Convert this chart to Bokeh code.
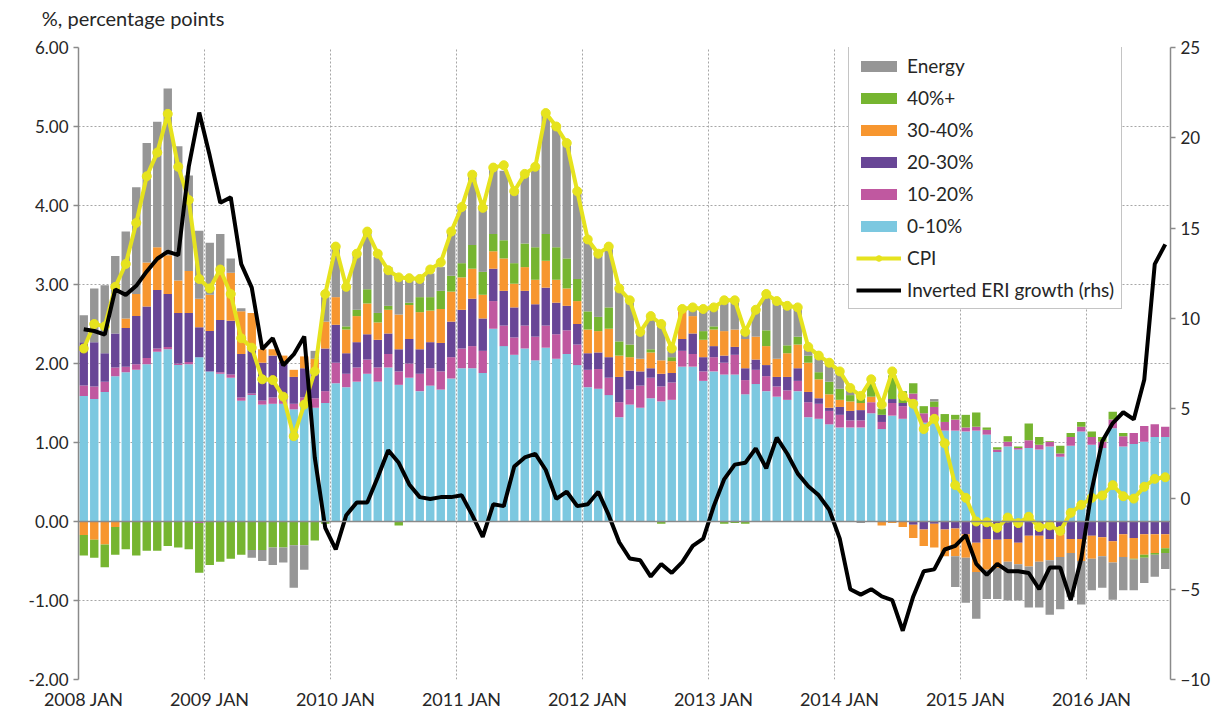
import numpy as np
from bokeh.plotting import figure
from bokeh.models import (Range1d, LinearAxis, FixedTicker, NumeralTickFormatter, Span,
                          Legend, LegendItem, ColumnDataSource)
from bokeh.embed import file_html
from bokeh.resources import INLINE

# ---------------- data (monthly, 2008 JAN .. 2016 AUG) ----------------
year_labels = ["2008 JAN", "2009 JAN", "2010 JAN", "2011 JAN", "2012 JAN",
               "2013 JAN", "2014 JAN", "2015 JAN", "2016 JAN"]
unit_text = "%, percentage points"

blue = [1.59,1.55,1.64,1.84,1.89,1.92,1.99,2.15,2.18,1.98,
        1.99,2.08,1.90,1.87,1.82,1.53,1.60,1.48,1.49,1.49,
        1.42,1.49,1.44,1.50,1.75,1.70,1.77,1.87,1.77,1.95,
        1.73,1.82,1.65,1.72,1.67,1.81,1.94,1.94,1.88,2.44,
        2.22,2.11,2.19,2.04,2.20,2.06,2.12,1.98,1.70,1.68,
        1.60,1.32,1.48,1.44,1.56,1.52,1.54,1.96,1.96,1.78,
        1.90,1.86,1.86,1.61,1.74,1.65,1.58,1.54,1.65,1.32,
        1.30,1.23,1.19,1.19,1.19,1.37,1.17,1.34,1.30,1.54,
        1.25,1.33,1.15,1.15,1.14,1.15,1.10,0.88,0.95,0.91,
        0.93,0.91,0.95,0.82,0.96,1.14,0.97,0.93,1.18,0.95,
        0.98,1.01,1.07,1.07]

pink = [0.13,0.16,0.13,0.11,0.07,0.07,0.08,0.04,0.03,0.02,
        0.03,-0.02,0.00,0.02,0.04,0.04,0.02,0.05,0.08,0.04,
        0.07,0.08,0.12,0.15,0.26,0.17,0.18,0.18,0.18,0.17,
        0.17,0.18,0.22,0.22,0.23,0.27,0.25,0.28,0.28,0.35,
        0.26,0.22,0.29,0.30,0.28,0.31,0.30,0.26,0.22,0.25,
        0.22,0.19,0.19,0.28,0.26,0.19,0.22,0.20,0.16,0.12,
        0.18,0.15,0.25,0.18,0.18,0.19,0.13,0.12,0.13,0.19,
        0.19,0.17,0.16,0.09,0.09,0.14,0.09,0.16,0.16,0.08,
        0.12,0.12,0.11,0.14,0.05,0.05,0.06,0.03,0.06,0.02,
        0.10,0.06,0.06,0.04,0.11,0.06,0.10,0.08,0.11,0.13,
        0.14,0.20,0.16,0.13]

purple = [0.55,0.56,0.36,0.43,0.49,0.61,0.65,0.74,0.67,0.64,
          0.62,0.38,0.51,0.66,0.68,0.55,0.57,0.48,0.53,0.49,
          0.34,0.37,0.34,0.54,0.48,0.26,0.32,0.32,0.35,0.26,
          0.28,0.31,0.31,0.33,0.36,0.45,0.49,0.60,0.41,0.41,
          0.44,0.38,0.44,0.41,0.48,0.40,0.31,0.26,0.21,0.21,
          0.26,0.32,0.24,0.18,0.12,0.16,0.12,0.15,0.26,0.18,
          0.14,0.09,0.10,0.15,0.13,0.14,0.12,0.17,0.16,0.13,
          0.07,0.04,0.10,0.12,0.13,0.00,0.09,0.05,0.04,-0.04,
          -0.10,-0.03,-0.10,-0.09,-0.16,-0.27,-0.22,-0.23,-0.22,-0.27,
          -0.18,-0.18,-0.22,-0.16,-0.22,-0.22,-0.18,-0.20,-0.25,-0.16,
          -0.21,-0.16,-0.16,-0.16]

orange = [-0.17,-0.23,-0.29,-0.07,0.12,0.28,0.56,0.54,0.49,0.41,
          0.53,0.36,0.46,0.67,0.61,0.54,0.45,0.17,0.08,0.08,
          0.09,0.15,0.16,0.34,0.35,0.30,0.33,0.39,0.22,0.30,
          0.44,0.43,0.47,0.40,0.43,0.38,0.41,0.38,0.30,0.22,
          0.41,0.30,0.30,0.31,0.34,0.29,0.22,0.29,0.30,0.27,
          0.36,0.27,0.17,0.16,0.20,0.17,0.15,0.35,0.22,0.22,
          0.21,0.31,0.22,0.37,0.29,0.24,0.23,0.30,0.30,0.37,
          0.24,0.17,0.09,0.12,0.09,0.07,-0.05,-0.02,-0.07,-0.17,
          -0.21,-0.30,-0.34,-0.35,-0.30,-0.37,-0.39,-0.36,-0.29,-0.27,
          -0.39,-0.33,-0.27,-0.29,-0.18,-0.28,-0.29,-0.24,-0.27,-0.29,
          -0.26,-0.26,-0.24,-0.18]

green = [-0.26,-0.23,-0.29,-0.35,-0.35,-0.43,-0.37,-0.37,-0.31,-0.33,
         -0.35,-0.63,-0.55,-0.51,-0.47,-0.42,-0.36,-0.36,-0.33,-0.33,
         -0.30,-0.30,-0.24,-0.03,0.00,0.04,0.08,0.18,0.12,0.05,
         -0.05,0.03,0.19,0.17,0.23,0.20,0.18,0.30,0.29,0.22,
         0.23,0.26,0.30,0.41,0.34,0.41,0.38,0.28,0.23,0.18,
         0.27,0.18,0.16,0.00,0.04,-0.03,0.05,0.00,0.00,0.11,
         0.04,-0.03,-0.02,-0.03,0.00,0.20,0.00,0.10,0.10,0.09,
         0.09,0.16,0.14,0.08,0.10,0.17,0.08,0.30,0.15,0.13,
         0.09,0.07,0.10,0.06,0.16,0.18,0.03,0.03,0.07,0.02,
         0.21,0.10,0.01,0.10,0.05,0.06,0.07,0.06,0.10,0.04,
         -0.01,-0.04,-0.02,-0.06]

energy = [0.34,0.68,0.86,0.98,1.10,1.35,1.51,1.59,2.11,1.70,
          1.21,0.86,0.66,0.42,0.18,0.04,-0.10,-0.14,-0.22,-0.19,
          -0.54,-0.31,0.10,0.31,0.63,0.49,0.70,0.72,0.71,0.49,
          0.48,0.31,0.22,0.30,0.30,0.54,0.69,0.87,0.81,0.85,
          0.88,0.91,0.86,1.02,1.53,1.53,1.46,1.12,0.90,0.80,
          0.77,0.65,0.56,0.34,0.42,0.45,0.12,0.04,0.10,0.27,
          0.23,0.39,0.36,0.08,0.34,0.46,0.73,0.51,0.35,0.10,
          0.20,0.23,0.22,0.10,-0.02,0.00,0.00,0.00,0.00,0.00,
          0.00,0.03,0.00,-0.39,-0.57,-0.59,-0.37,-0.39,-0.49,-0.46,
          -0.52,-0.58,-0.69,-0.66,-0.56,-0.55,-0.40,-0.40,-0.47,-0.42,
          -0.39,-0.32,-0.28,-0.20]

cpi = [2.19,2.50,2.47,2.97,3.26,3.78,4.37,4.67,5.16,4.49,
       4.07,3.07,2.95,3.19,2.88,2.32,2.20,1.80,1.79,1.58,
       1.08,1.48,1.90,2.88,3.48,2.97,3.39,3.67,3.39,3.18,
       3.09,3.08,3.07,3.19,3.28,3.67,3.98,4.39,3.97,4.48,
       4.51,4.18,4.40,4.49,5.17,5.00,4.79,4.18,3.57,3.39,
       3.48,2.95,2.80,2.40,2.60,2.50,2.19,2.69,2.71,2.69,
       2.71,2.80,2.80,2.40,2.68,2.88,2.79,2.73,2.71,2.21,
       2.10,2.01,1.90,1.69,1.59,1.80,1.48,1.90,1.59,1.49,
       1.17,1.30,0.99,0.46,0.30,0.00,-0.01,-0.08,0.05,-0.02,
       0.06,-0.07,-0.05,-0.12,0.11,0.21,0.30,0.33,0.46,0.32,
       0.29,0.44,0.54,0.56]

eri = [9.4,9.3,9.1,11.6,11.3,11.8,12.6,13.3,13.7,13.5,
       18.4,21.4,19.0,16.4,16.7,13.0,11.7,8.3,8.9,7.4,
       8.0,9.0,2.3,-1.6,-2.8,-0.9,-0.2,-0.2,1.2,2.7,
       2.0,0.8,0.1,0.0,0.1,0.1,0.2,-0.9,-2.1,-0.3,
       -0.4,1.8,2.3,2.5,1.6,0.0,0.4,-0.4,-0.3,0.4,
       -0.9,-2.4,-3.3,-3.4,-4.3,-3.6,-4.1,-3.5,-2.6,-2.2,
       -0.4,1.1,1.9,2.0,2.8,1.7,3.4,2.5,1.4,0.7,
       0.2,-0.6,-2.2,-5.0,-5.3,-5.0,-5.4,-5.6,-7.3,-5.4,
       -4.0,-3.9,-2.8,-2.6,-2.0,-3.6,-4.2,-3.6,-4.0,-4.0,
       -4.1,-5.0,-3.8,-3.8,-5.6,-3.3,0.5,3.2,4.2,4.8,
       4.4,6.6,13.0,14.1]

# ---------------- styling ----------------
FONT = "Lato"
TXT = "#262626"
AXC = "#8a8a8a"
C_BLUE, C_PINK, C_PURPLE = "#7cc8e0", "#c058a0", "#684696"
C_ORANGE, C_GREEN, C_GREY = "#f7962f", "#76b530", "#969696"
C_YELLOW = "#e6e31e"

n = len(blue)
x = np.arange(n) + 0.5

p = figure(width=1213, height=712, output_backend="svg", toolbar_location=None,
           x_range=Range1d(0, n), y_range=Range1d(-2, 6),
           min_border_left=78, min_border_right=43, min_border_top=47,
           min_border_bottom=31, outline_line_color=None)

p.extra_y_ranges = {"eri": Range1d(-10, 25)}

# unit text shown as the single label of an invisible top axis
ta = LinearAxis(ticker=FixedTicker(ticks=[5.2]))
ta.major_label_overrides = {5.2: unit_text}
ta.axis_line_color = None
ta.major_tick_line_color = None
ta.major_tick_out = 0
ta.major_tick_in = 0
ta.minor_tick_line_color = None
ta.minor_tick_out = 0
ta.major_label_text_font = FONT
ta.major_label_text_font_size = "20px"
ta.major_label_text_color = TXT
ta.major_label_standoff = 18
p.add_layout(ta, "above")

# grids
p.ygrid.ticker = FixedTicker(ticks=list(range(-2, 7)))
p.ygrid.grid_line_color = "#a6a6a6"
p.ygrid.grid_line_dash = "2 2"
p.xgrid.ticker = FixedTicker(ticks=[12 * k for k in range(len(year_labels))])
p.xgrid.grid_line_color = "#a6a6a6"
p.xgrid.grid_line_dash = "2 2"

# left axis
la = p.yaxis[0]
la.ticker = FixedTicker(ticks=list(range(-2, 7)))
la.formatter = NumeralTickFormatter(format="0.00")
la.axis_line_color = AXC
la.axis_line_width = 1.5
la.major_tick_line_color = AXC
la.major_tick_line_width = 1.5
la.major_tick_out = 5
la.major_tick_in = 0
la.minor_tick_line_color = None
la.major_label_text_font = FONT
la.major_label_text_font_size = "17px"
la.major_label_text_color = TXT
la.major_label_standoff = 5

# bottom axis (labels only)
ba = p.below[0]
tick_pos = [12 * k + 0.5 for k in range(len(year_labels))]
ba.ticker = FixedTicker(ticks=tick_pos)
ba.major_label_overrides = {t: lab for t, lab in zip(tick_pos, year_labels)}
ba.axis_line_color = None
ba.major_tick_line_color = None
ba.major_tick_out = 0
ba.major_tick_in = 0
ba.minor_tick_line_color = None
ba.minor_tick_out = 0
ba.major_label_text_font = FONT
ba.major_label_text_font_size = "18px"
ba.major_label_text_color = TXT
ba.major_label_standoff = 8

# right axis
ra = LinearAxis(y_range_name="eri", ticker=FixedTicker(ticks=list(range(-10, 26, 5))))
ra.axis_line_color = AXC
ra.axis_line_width = 1.5
ra.major_tick_line_color = AXC
ra.major_tick_line_width = 1.5
ra.major_tick_out = 5
ra.major_tick_in = 0
ra.minor_tick_line_color = None
ra.major_label_text_font = FONT
ra.major_label_text_font_size = "17px"
ra.major_label_text_color = TXT
ra.major_label_standoff = 5
p.add_layout(ra, "right")

# stacked bars
components = [("0-10%", blue, C_BLUE), ("10-20%", pink, C_PINK),
              ("20-30%", purple, C_PURPLE), ("30-40%", orange, C_ORANGE),
              ("40%+", green, C_GREEN), ("Energy", energy, C_GREY)]
pos_base = np.zeros(n)
neg_base = np.zeros(n)
bar_r = {}
for name, vals, col in components:
    v = np.array(vals, dtype=float)
    bottom = np.where(v >= 0, pos_base, neg_base)
    top = bottom + v
    pos_base = np.where(v >= 0, top, pos_base)
    neg_base = np.where(v < 0, top, neg_base)
    src = ColumnDataSource(dict(x=x, bottom=bottom, top=top))
    bar_r[name] = p.vbar(x="x", bottom="bottom", top="top", width=0.8, source=src,
                         fill_color=col, line_color=None)

zero = Span(location=0, dimension="width", line_color="#8a8a8a", line_width=1.5)
p.add_layout(zero)

# lines
cpi_line = p.line(x, cpi, line_color=C_YELLOW, line_width=4)
cpi_pts = p.scatter(x, cpi, size=9, fill_color=C_YELLOW, line_color=C_YELLOW)
eri_line = p.line(x, eri, y_range_name="eri", line_color="black", line_width=4)

items = [LegendItem(label=name, renderers=[bar_r[name]])
         for name in ["Energy", "40%+", "30-40%", "20-30%", "10-20%", "0-10%"]]
items.append(LegendItem(label="CPI", renderers=[cpi_line, cpi_pts]))
items.append(LegendItem(label="Inverted ERI growth (rhs)", renderers=[eri_line]))
legend = Legend(items=items, location=(770, 370))
legend.glyph_width = 45
legend.glyph_height = 14
legend.label_height = 20
legend.spacing = 9
legend.padding = 7
legend.margin = 0
legend.label_standoff = 6
legend.label_text_font = FONT
legend.label_text_font_size = "19px"
legend.label_text_color = TXT
legend.border_line_color = "#8a8a8a"
legend.border_line_width = 1.5
legend.background_fill_color = "white"
legend.background_fill_alpha = 1.0
p.add_layout(legend)

open("out.html", "w").write(file_html(p, INLINE))
